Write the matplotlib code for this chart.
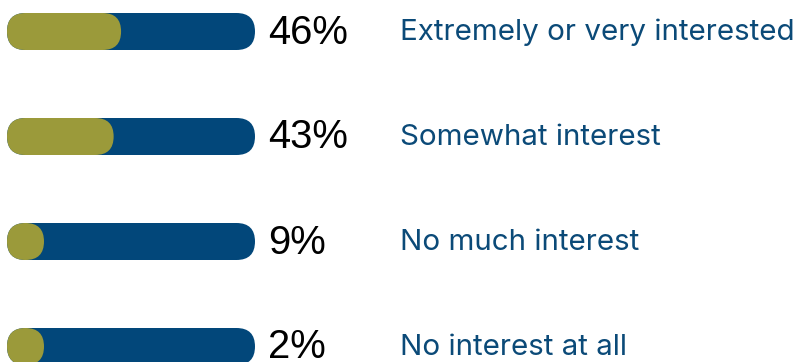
import matplotlib
matplotlib.use("Agg")
import matplotlib.pyplot as plt
from matplotlib.patches import FancyBboxPatch

# survey answers
labels = ["Extremely or very interested", "Somewhat interest",
          "No much interest", "No interest at all"]
values = [46, 43, 9, 2]

track_color = "#02477a"
fill_color = "#9b9a3a"
text_color = "#0b4a78"

fig = plt.figure(figsize=(8.03, 3.62), dpi=100)
ax = fig.add_axes([0, 0, 1, 1])
ax.set_xlim(0, 803)
ax.set_ylim(362, 0)
ax.axis("off")

x0 = 7
track_len = 248
h = 37
r = h / 2

for i, (lab, v) in enumerate(zip(labels, values)):
    yc = 31.5 + i * 105
    track = FancyBboxPatch((x0, yc - r), track_len, h,
                           boxstyle=f"round,pad=0,rounding_size={r}",
                           fc=track_color, ec="none")
    ax.add_patch(track)
    w = max(track_len * v / 100, h)
    fill = FancyBboxPatch((x0, yc - r), w, h,
                          boxstyle=f"round,pad=0,rounding_size={r}",
                          fc=fill_color, ec="none")
    ax.add_patch(fill)
    ax.text(268, yc + 1, f"{v}%", fontsize=28.8, color="black",
            family="Liberation Sans", va="center", ha="left")
    ax.text(400, yc + 1, lab, fontsize=21.3, color=text_color,
            family="Inter", va="center", ha="left")

fig.savefig("out.png", dpi=100)
